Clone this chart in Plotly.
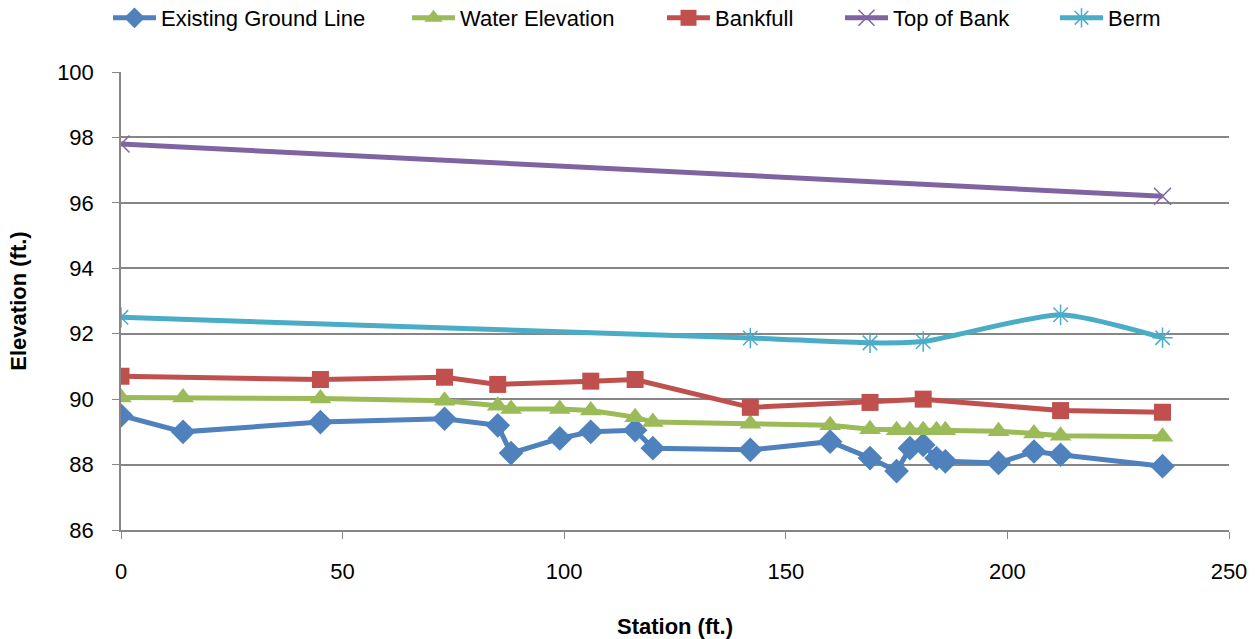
import plotly.graph_objects as go

# station / elevation values
ground_x = [0, 14, 45, 73, 85, 88, 99, 106, 116, 120, 142, 160, 169, 175, 178, 181, 184, 186, 198, 206, 212, 235]
ground_y = [89.5, 89.0, 89.3, 89.4, 89.2, 88.35, 88.8, 89.0, 89.05, 88.5, 88.45, 88.7, 88.2, 87.8, 88.5, 88.6, 88.2, 88.1, 88.05, 88.4, 88.3, 87.95]

water_x = [0, 14, 45, 73, 85, 88, 99, 106, 116, 120, 142, 160, 169, 175, 178, 181, 184, 186, 198, 206, 212, 235]
water_y = [90.05, 90.05, 90.02, 89.95, 89.8, 89.7, 89.7, 89.65, 89.45, 89.3, 89.25, 89.2, 89.08, 89.05, 89.05, 89.05, 89.05, 89.05, 89.02, 88.95, 88.88, 88.85]

bank_x = [0, 45, 73, 85, 106, 116, 142, 169, 181, 212, 235]
bank_y = [90.7, 90.6, 90.67, 90.45, 90.55, 90.6, 89.75, 89.9, 90.0, 89.65, 89.6]

top_x = [0, 235]
top_y = [97.8, 96.2]

berm_x = [0, 142, 169, 181, 212, 235]
berm_y = [92.5, 91.87, 91.72, 91.76, 92.58, 91.88]

# left edge (px) of each legend entry, as in the excel legend
legend_left = [100, 399, 654, 832, 1047]

fig = go.Figure()

fig.add_trace(go.Scatter(x=ground_x, y=ground_y, name='Existing Ground Line', mode='lines+markers',
                         line=dict(color='#4F81BD', width=5), legend='legend',
                         marker=dict(symbol='diamond', size=19, color='#4F81BD')))
fig.add_trace(go.Scatter(x=water_x, y=water_y, name='Water Elevation', mode='lines+markers',
                         line=dict(color='#9BBB59', width=5), legend='legend2',
                         marker=dict(symbol='triangle-up', size=19, color='#9BBB59')))
fig.add_trace(go.Scatter(x=bank_x, y=bank_y, name='Bankfull', mode='lines+markers',
                         line=dict(color='#C0504D', width=5), legend='legend3',
                         marker=dict(symbol='square', size=17, color='#C0504D')))
fig.add_trace(go.Scatter(x=top_x, y=top_y, name='Top of Bank', mode='lines+markers',
                         line=dict(color='#8064A2', width=5), legend='legend4',
                         marker=dict(symbol='x-thin', size=17, line=dict(color='#8064A2', width=1.5))))
fig.add_trace(go.Scatter(x=berm_x, y=berm_y, name='Berm', mode='lines+markers',
                         line=dict(color='#4BACC6', width=5, shape='spline', smoothing=0.6), legend='legend5',
                         marker=dict(symbol='asterisk', size=17, line=dict(color='#4BACC6', width=1.5))))

fig.update_layout(
    width=1257, height=639,
    plot_bgcolor='white', paper_bgcolor='white',
    font=dict(family='Liberation Sans', size=22, color='black'),
    margin=dict(l=121, r=28, t=72, b=109),
    showlegend=True,
)
for i, left in enumerate(legend_left):
    key = 'legend' if i == 0 else 'legend%d' % (i + 1)
    fig.update_layout({key: dict(orientation='h', x=(left + 8) / 1257, xanchor='left', xref='container',
                                 y=1 - 18 / 639, yanchor='middle', yref='container',
                                 itemwidth=43, bgcolor='rgba(0,0,0,0)', font=dict(size=22))})

fig.update_xaxes(range=[0, 250], dtick=50, showgrid=False, zeroline=False,
                 showline=True, linecolor='#868686', linewidth=1.5,
                 ticks='outside', ticklen=7, tickcolor='#868686', ticklabelstandoff=14,
                 automargin=False,
                 title=dict(text='<b>Station (ft.)</b>', font=dict(size=22), standoff=36))
fig.update_yaxes(range=[86, 100], dtick=2, showgrid=True, gridcolor='#868686', gridwidth=1.5,
                 zeroline=False, showline=True, linecolor='#868686', linewidth=1.5,
                 ticks='outside', ticklen=7, tickcolor='#868686', ticklabelstandoff=14,
                 automargin=False,
                 title=dict(text='<b>Elevation (ft.)</b>', font=dict(size=22), standoff=24))

fig.write_html("out.html", config={'displayModeBar': False},
               post_script="document.body.style.margin='0';")
